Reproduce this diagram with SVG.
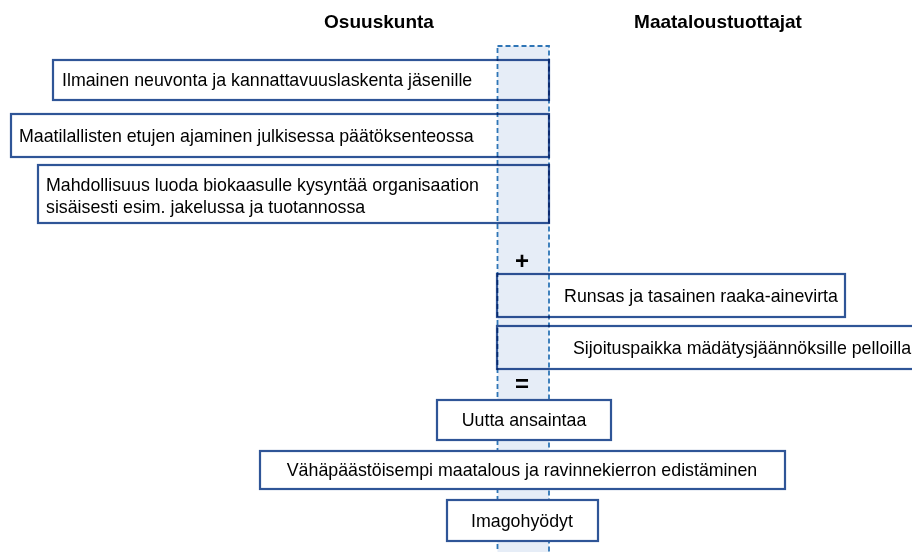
<svg xmlns="http://www.w3.org/2000/svg" width="912" height="552" viewBox="0 0 912 552">
  <style>
    .box { fill: #ffffff; stroke: #2F5597; stroke-width: 2.2; }
    .lbl { font-family: "Liberation Sans", Arial, sans-serif; font-size: 17.8px; fill: #000000; }
    .head { font-family: "Liberation Sans", Arial, sans-serif; font-size: 19px; font-weight: bold; fill: #000000; }
    .sym { font-family: "Liberation Sans", Arial, sans-serif; font-size: 24px; font-weight: bold; fill: #000000; text-anchor: middle; }
    .col { fill: #E6EDF7; stroke: #2E75B6; stroke-width: 1.8; stroke-dasharray: 5 3; mix-blend-mode: multiply; }
    .mid { text-anchor: middle; }
  </style>

  <!-- column headings -->
  <text class="head mid" x="379" y="28">Osuuskunta</text>
  <text class="head mid" x="718" y="28">Maataloustuottajat</text>

  <!-- cooperative-side benefits -->
  <g id="node-neuvonta">
    <rect class="box" x="53" y="60" width="496" height="40"/>
    <text class="lbl" x="62" y="86">Ilmainen neuvonta ja kannattavuuslaskenta jäsenille</text>
  </g>
  <g id="node-edunvalvonta">
    <rect class="box" x="11" y="114" width="538" height="43"/>
    <text class="lbl" x="19" y="142">Maatilallisten etujen ajaminen julkisessa päätöksenteossa</text>
  </g>
  <g id="node-kysynta">
    <rect class="box" x="38" y="165" width="511" height="58"/>
    <text class="lbl" x="46" y="191">Mahdollisuus luoda biokaasulle kysyntää organisaation</text>
    <text class="lbl" x="46" y="213">sisäisesti esim. jakelussa ja tuotannossa</text>
  </g>

  <!-- producer-side benefits -->
  <g id="node-raaka-aine">
    <rect class="box" x="497" y="274" width="348" height="43"/>
    <text class="lbl mid" x="701" y="302">Runsas ja tasainen raaka-ainevirta</text>
  </g>
  <g id="node-sijoitus">
    <rect class="box" x="497" y="326" width="420" height="43"/>
    <text class="lbl" x="573" y="354">Sijoituspaikka mädätysjäännöksille pelloilla</text>
  </g>

  <!-- shared dashed column -->
  <g id="column">
    <rect class="col" x="497.5" y="46" width="51.5" height="520"/>
    <text class="sym" x="522" y="269">+</text>
    <text class="sym" x="522" y="392">=</text>
  </g>

  <!-- joint results -->
  <g id="node-ansainta">
    <rect class="box" x="437" y="400" width="174" height="40"/>
    <text class="lbl mid" x="524" y="426">Uutta ansaintaa</text>
  </g>
  <g id="node-ymparisto">
    <rect class="box" x="260" y="451" width="525" height="38"/>
    <text class="lbl mid" x="522" y="476">Vähäpäästöisempi maatalous ja ravinnekierron edistäminen</text>
  </g>
  <g id="node-imago">
    <rect class="box" x="447" y="500" width="151" height="41"/>
    <text class="lbl mid" x="522" y="527">Imagohyödyt</text>
  </g>
</svg>
